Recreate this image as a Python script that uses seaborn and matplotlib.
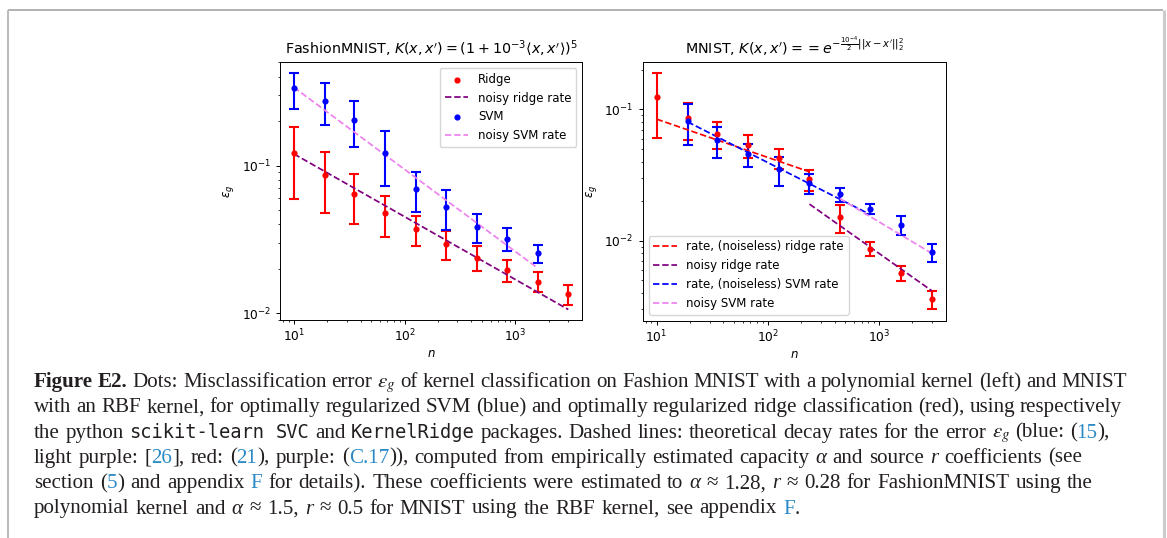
import re
import numpy as np
import pandas as pd
import matplotlib
matplotlib.use('Agg')
import matplotlib.pyplot as plt
from matplotlib.lines import Line2D
import seaborn as sns

# sample sizes n (same grid for both datasets)
n_values = [10, 19, 35, 67, 126, 238, 446, 841, 1592, 3000]

# FashionMNIST, polynomial kernel
fashion_ridge = [0.121, 0.0860, 0.0643, 0.0477, 0.0373, 0.0296, 0.0238, 0.0196, 0.0164, 0.0135]
fashion_ridge_err = [0.062, 0.038, 0.024, 0.0148, 0.0086, 0.0065, 0.0046, 0.0034, 0.0025, 0.0021]
fashion_svm = [0.334, 0.275, 0.204, 0.122, 0.0695, 0.0525, 0.0385, 0.0319, 0.0255]
fashion_svm_err = [0.092, 0.088, 0.071, 0.049, 0.021, 0.016, 0.0086, 0.0056, 0.0036]
fashion_noisy_ridge_n = [10, 3000]
fashion_noisy_ridge = [0.120, 0.0106]
fashion_noisy_svm_n = [10, 1592]
fashion_noisy_svm = [0.339, 0.0202]

# MNIST, RBF kernel
mnist_ridge = [0.125, 0.0854, 0.0653, 0.0534, 0.0424, 0.0293, 0.0151, 0.00869, 0.00568, 0.00360]
mnist_ridge_err = [0.064, 0.0267, 0.015, 0.0107, 0.0075, 0.0054, 0.0036, 0.0011, 0.00073, 0.00056]
mnist_svm = [0.0820, 0.0581, 0.0454, 0.0349, 0.0274, 0.0225, 0.0175, 0.0132, 0.00816]
mnist_svm_err = [0.0285, 0.0155, 0.0091, 0.0088, 0.0046, 0.0029, 0.0014, 0.0022, 0.00126]
mnist_ridge_rate_n = [10, 238]
mnist_ridge_rate = [0.0844, 0.0335]
mnist_noisy_ridge_n = [238, 3000]
mnist_noisy_ridge = [0.0190, 0.00416]
mnist_svm_rate_n = [19, 841]
mnist_svm_rate = [0.0805, 0.0158]
mnist_noisy_svm_n = [446, 3000]
mnist_noisy_svm = [0.0210, 0.00802]

W, H = 1167, 538
plt.rcParams.update({
    'font.family': 'DejaVu Sans',
    'font.size': 8.5,
    'xtick.labelsize': 8.8,
    'ytick.labelsize': 8.8,
    'axes.titlesize': 10.3,
    'axes.labelsize': 8.5,
    'legend.fontsize': 8.5,
    'axes.linewidth': 0.7,
    'xtick.major.width': 0.7, 'ytick.major.width': 0.7,
    'xtick.minor.width': 0.55, 'ytick.minor.width': 0.55,
    'xtick.major.size': 2.9, 'ytick.major.size': 2.9,
    'xtick.minor.size': 1.7, 'ytick.minor.size': 1.7,
    'xtick.major.pad': 2.8,
})

fig = plt.figure(figsize=(W / 100, H / 100), dpi=100)
fig.patch.set_facecolor('white')


def points(ax, n, y, err, color, label=None):
    ax.errorbar(n, y, yerr=err, fmt='none', ecolor=color, elinewidth=1.5,
                capsize=3.3, capthick=1.5, zorder=2)
    sns.scatterplot(x=n, y=y, ax=ax, color=color, s=20, linewidth=0,
                    label=label, zorder=3, legend=False)


def rate(ax, n, y, color, label):
    sns.lineplot(x=n, y=y, ax=ax, color=color, linestyle='--', linewidth=1.25,
                 label=label, zorder=2.5, legend=False)


# left panel: FashionMNIST
ax1 = fig.add_axes([280 / W, 1 - 320 / H, 302 / W, 258 / H])
ax1.set_xscale('log')
ax1.set_yscale('log')
points(ax1, n_values, fashion_ridge, fashion_ridge_err, 'red', 'Ridge')
rate(ax1, fashion_noisy_ridge_n, fashion_noisy_ridge, 'purple', 'noisy ridge rate')
points(ax1, n_values[:len(fashion_svm)], fashion_svm, fashion_svm_err, 'blue', 'SVM')
rate(ax1, fashion_noisy_svm_n, fashion_noisy_svm, 'violet', 'noisy SVM rate')
ax1.legend(loc='upper right')
ax1.set_title(r"FashionMNIST, $K(x,x')=(1+10^{-3}\langle x,x'\rangle)^5$")
ax1.set_xlabel(r'$n$', labelpad=2)
ax1.set_ylabel(r'$\epsilon_g$')
ax1.set_xlim(7.5, 3990)
ax1.set_ylim(0.0090, 0.503)

# right panel: MNIST
ax2 = fig.add_axes([642.7 / W, 1 - 320.7 / H, 302.8 / W, 259 / H])
ax2.set_xscale('log')
ax2.set_yscale('log')
points(ax2, n_values, mnist_ridge, mnist_ridge_err, 'red')
rate(ax2, mnist_ridge_rate_n, mnist_ridge_rate, 'red', 'rate, (noiseless) ridge rate')
rate(ax2, mnist_noisy_ridge_n, mnist_noisy_ridge, 'purple', 'noisy ridge rate')
points(ax2, n_values[1:], mnist_svm, mnist_svm_err, 'blue')
rate(ax2, mnist_svm_rate_n, mnist_svm_rate, 'blue', 'rate, (noiseless) SVM rate')
rate(ax2, mnist_noisy_svm_n, mnist_noisy_svm, 'violet', 'noisy SVM rate')
ax2.legend(loc='lower left')
ax2.set_title(r"MNIST, $K(x,x') = = e^{-\frac{10^{-4}}{2}||x-x'||_2^2}$")
ax2.set_xlabel(r'$n$', labelpad=2)
ax2.set_ylabel(r'$\epsilon_g$')
ax2.set_xlim(7.5, 3990)
ax2.set_ylim(0.00246, 0.231)

# page frame around the figure
frame_kw = dict(transform=fig.transFigure, solid_capstyle='butt')
fig.add_artist(Line2D([8 / W, 1163 / W], [1 - 10 / H, 1 - 10 / H], color='#a5a5a5', lw=1.2, **frame_kw))
fig.add_artist(Line2D([8 / W, 8 / W], [1 - 10 / H, 0], color='#bdbdbd', lw=1.5, **frame_kw))
fig.add_artist(Line2D([1164 / W, 1164 / W], [1 - 10 / H, 0], color='#cccccc', lw=2.2, **frame_kw))

# caption, drawn word by word so fonts and colours can change inside a line
ink = '#231f20'
cite = '#2b8ac6'
serif = ['Liberation Serif', 'DejaVu Serif']
fs = 15.15
styles = {
    'n': dict(family=serif, size=fs, color=ink, math_fontfamily='stix'),
    'i': dict(family=serif, size=fs, color=ink, style='italic'),
    'b': dict(family=serif, size=fs, color=ink, weight='bold'),
    'm': dict(family='DejaVu Sans Mono', size=13.5, color=ink),
    'c': dict(family=serif, size=fs, color=cite),
}

caption = [
    [("Figure E2.", 'b'), (" Dots: Misclassification error ", 'n'), (r"$\epsilon_g$", 'n'),
     (" of kernel classification on Fashion MNIST with a polynomial kernel (left) and MNIST", 'n')],
    [("with an RBF kernel, for optimally regularized SVM (blue) and optimally regularized ridge "
      "classification (red), using respectively", 'n')],
    [("the python ", 'n'), ("scikit-learn SVC", 'm'), (" and ", 'n'), ("KernelRidge", 'm'),
     (" packages. Dashed lines: theoretical decay rates for the error ", 'n'), (r"$\epsilon_g$", 'n'),
     (" (blue: (", 'n'), ("15", 'c'), ("),", 'n')],
    [("light purple: [", 'n'), ("26", 'c'), ("], red: (", 'n'), ("21", 'c'), ("), purple: (", 'n'),
     ("C.17", 'c'), (")), computed from empirically estimated capacity ", 'n'), ("α", 'i'),
     (" and source ", 'n'), ("r", 'i'), (" coefficients (see", 'n')],
    [("section (", 'n'), ("5", 'c'), (") and appendix ", 'n'), ("F", 'c'),
     (" for details). These coefficients were estimated to ", 'n'),
     ("α", 'i'), (" ≈ 1.28, ", 'n'), ("r", 'i'), (" ≈ 0.28 for FashionMNIST using the", 'n')],
    [("polynomial kernel and ", 'n'), ("α", 'i'), (" ≈ 1.5, ", 'n'), ("r", 'i'),
     (" ≈ 0.5 for MNIST using the RBF kernel, see appendix ", 'n'), ("F", 'c'), (".", 'n')],
]
line_ends = [1127, 1122, 1110, 1082, 1093, 800]

renderer = fig.canvas.get_renderer()


def text_width(s, kw):
    probe = fig.text(0, 0, s + '|', **kw)
    bar = fig.text(0, 0, '|', **kw)
    w = probe.get_window_extent(renderer).width - bar.get_window_extent(renderer).width
    probe.remove()
    bar.remove()
    return w


x_start, y0, step = 34.0, 387.0, 25.3
for i, line in enumerate(caption):
    tokens = []
    for s, key in line:
        if '$' in s:
            tokens.append((s, key))
        else:
            tokens += [(p, key) for p in re.split(r'( )', s) if p]
    widths = [text_width(s, styles[k]) for s, k in tokens]
    n_space = sum(1 for s, _ in tokens if s == ' ')
    extra = (line_ends[i] - x_start - sum(widths)) / max(n_space, 1)
    x = x_start
    y = y0 + i * step
    for (s, key), w in zip(tokens, widths):
        if s == ' ':
            x += w + extra
            continue
        fig.text(x / W, 1 - y / H, s, ha='left', va='baseline', **styles[key])
        x += w

fig.savefig('out.png', dpi=100)
plt.close(fig)
